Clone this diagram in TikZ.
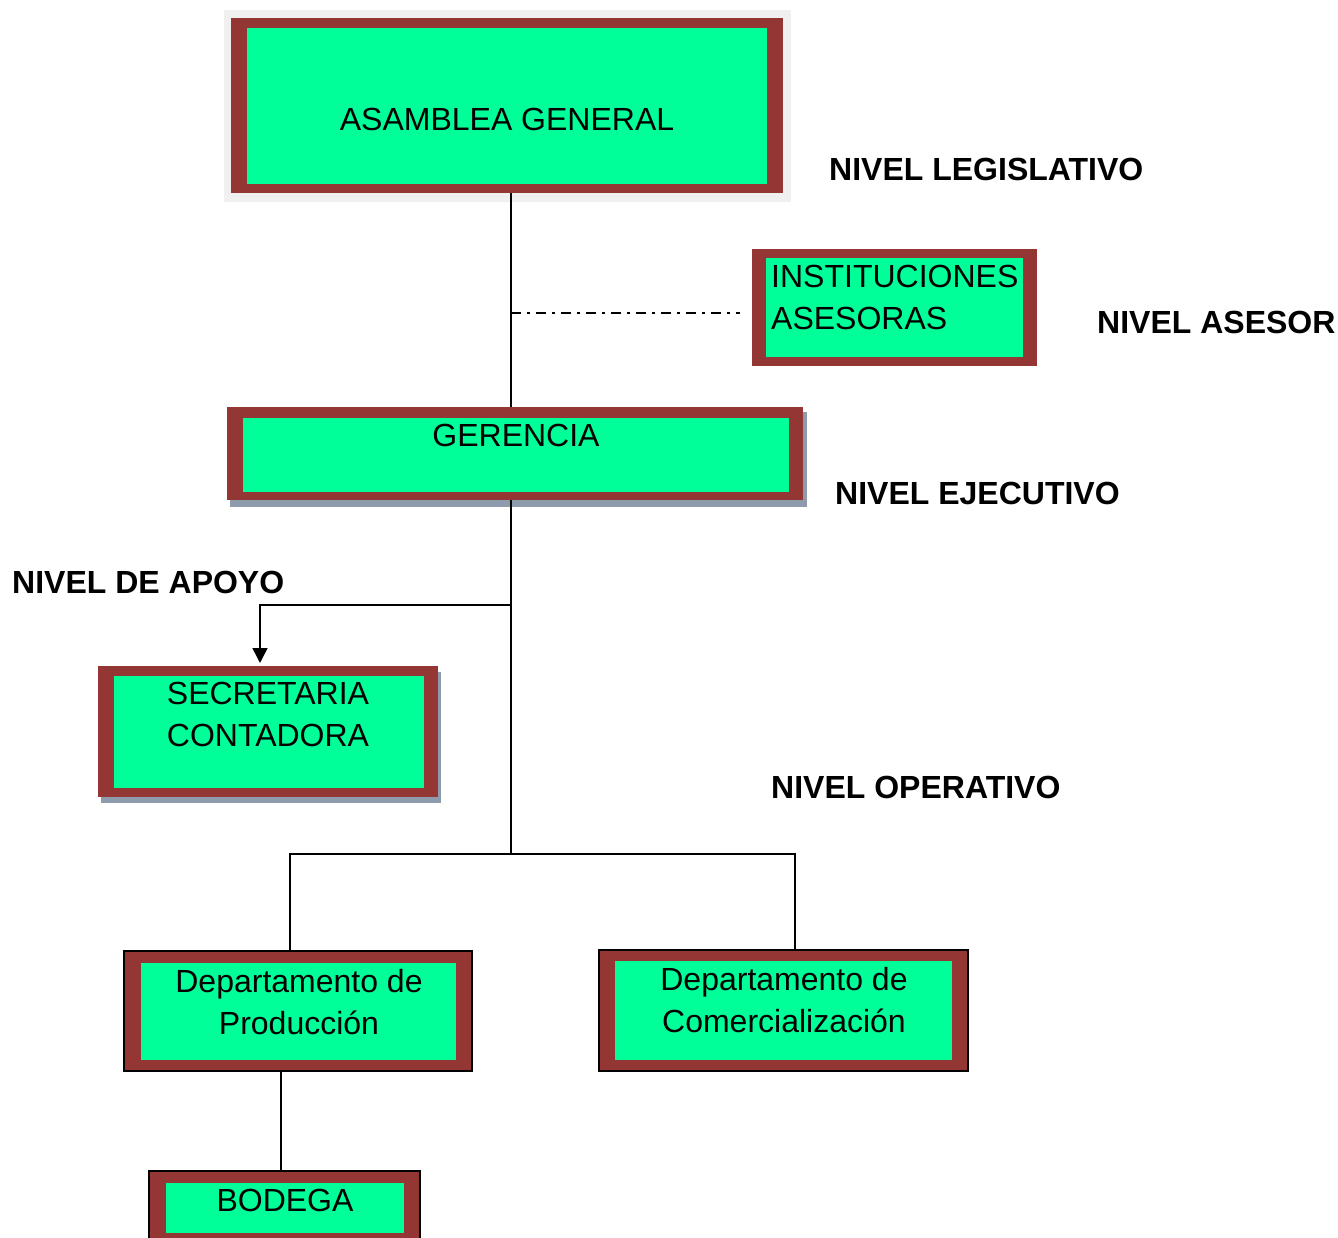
\documentclass[tikz,border=0pt]{standalone}
\usepackage{fontspec}
\setmainfont{Liberation Sans}
\usetikzlibrary{arrows.meta}
\definecolor{frame}{HTML}{943634}
\definecolor{mint}{HTML}{00FF99}
\definecolor{shadowgray}{HTML}{8E9BAD}
\definecolor{halo}{HTML}{F0F0F0}
\begin{document}
\begin{tikzpicture}[x=1pt,y=-1pt,
  framebox/.style={fill=frame, inner sep=0pt, outer sep=0pt},
  edged/.style={framebox, draw=black, line width=1.5pt},
  boxtext/.style={inner sep=0pt, anchor=north, align=center,
    font=\fontsize{32}{42}\selectfont},
  level/.style={inner sep=0pt, anchor=west, font=\fontsize{32}{38}\selectfont\bfseries},
  link/.style={draw=black, line width=1.6pt},
  dashdot/.style={link, dash pattern=on 10pt off 6pt on 3pt off 6pt}]
\useasboundingbox (0,0) rectangle (1338,1238);

% --- Asamblea general (with light backdrop)
\fill[halo] (224,10) rectangle (791,202);
\node[framebox, minimum width=552pt, minimum height=175pt] (ag) at (507,105.5) {};
\fill[mint] (247,28) rectangle (767,184);
\node[boxtext] (agt) at (507,108) {ASAMBLEA GENERAL};

% --- Instituciones asesoras
\node[framebox, minimum width=285pt, minimum height=117pt] (ia) at (894.5,307.5) {};
\fill[mint] (766,258) rectangle (1023,357);
\node[boxtext, anchor=north west, align=left] (iat) at (771,265) {INSTITUCIONES\\ASESORAS};

% --- Gerencia (with drop shadow)
\fill[shadowgray] (230,412) rectangle (807,507);
\node[framebox, minimum width=576pt, minimum height=93pt] (ger) at (515,453.5) {};
\fill[mint] (243,418) rectangle (789,492);
\node[boxtext] (gert) at (516,424) {GERENCIA};

% --- Secretaria contadora (with drop shadow)
\fill[shadowgray] (101,672) rectangle (441,803);
\node[framebox, minimum width=340pt, minimum height=131pt] (sec) at (268,731.5) {};
\fill[mint] (114,676) rectangle (424,788);
\node[boxtext] (sect) at (268,682) {SECRETARIA\\CONTADORA};

% --- Departamento de produccion
\node[edged, minimum width=348pt, minimum height=120pt] (prod) at (298,1011) {};
\fill[mint] (141,963) rectangle (456,1060);
\node[boxtext] (prodt) at (299,969) {Departamento de\\Producción};

% --- Departamento de comercializacion
\node[edged, minimum width=369pt, minimum height=121pt] (com) at (783.5,1010.5) {};
\fill[mint] (615,961) rectangle (952,1060);
\node[boxtext] (comt) at (784,967) {Departamento de\\Comercialización};

% --- Bodega
\node[edged, minimum width=271pt, minimum height=79pt] (bod) at (284.5,1210.5) {};
\fill[mint] (166,1183) rectangle (404,1233);
\node[boxtext] (bodt) at (285,1189) {BODEGA};

% --- Level labels
\node[level] (lleg) at (829,169) {NIVEL LEGISLATIVO};
\node[level] (lase) at (1097,322) {NIVEL ASESOR};
\node[level] (leje) at (835,493) {NIVEL EJECUTIVO};
\node[level] (lapo) at (12,582) {NIVEL DE APOYO};
\node[level] (lope) at (771,787) {NIVEL OPERATIVO};

% --- Connectors
\coordinate (jase) at (511,313);
\coordinate (japo) at (511,605);
\coordinate (jope) at (511,854);
\coordinate (aseend) at (740,313);
\coordinate (secx) at (260,0);
\coordinate (prodx) at (290,0);
\coordinate (comx) at (795,0);
\coordinate (bodx) at (281,0);

\draw[link] (ag.south -| jase) -- (ger.north -| jase);
\draw[link] (ger.south -| jase) -- (jope);
\draw[dashdot] (jase) -- (aseend);
\draw[link, -{Triangle[width=15pt,length=15pt]}] (japo) -- (japo -| secx) -- ([yshift=3pt]sec.north -| secx);
\draw[link] (prod.north -| prodx) -- (jope -| prodx) -- (jope -| comx) -- (com.north -| comx);
\draw[link] (prod.south -| bodx) -- (bod.north -| bodx);
\end{tikzpicture}
\end{document}
